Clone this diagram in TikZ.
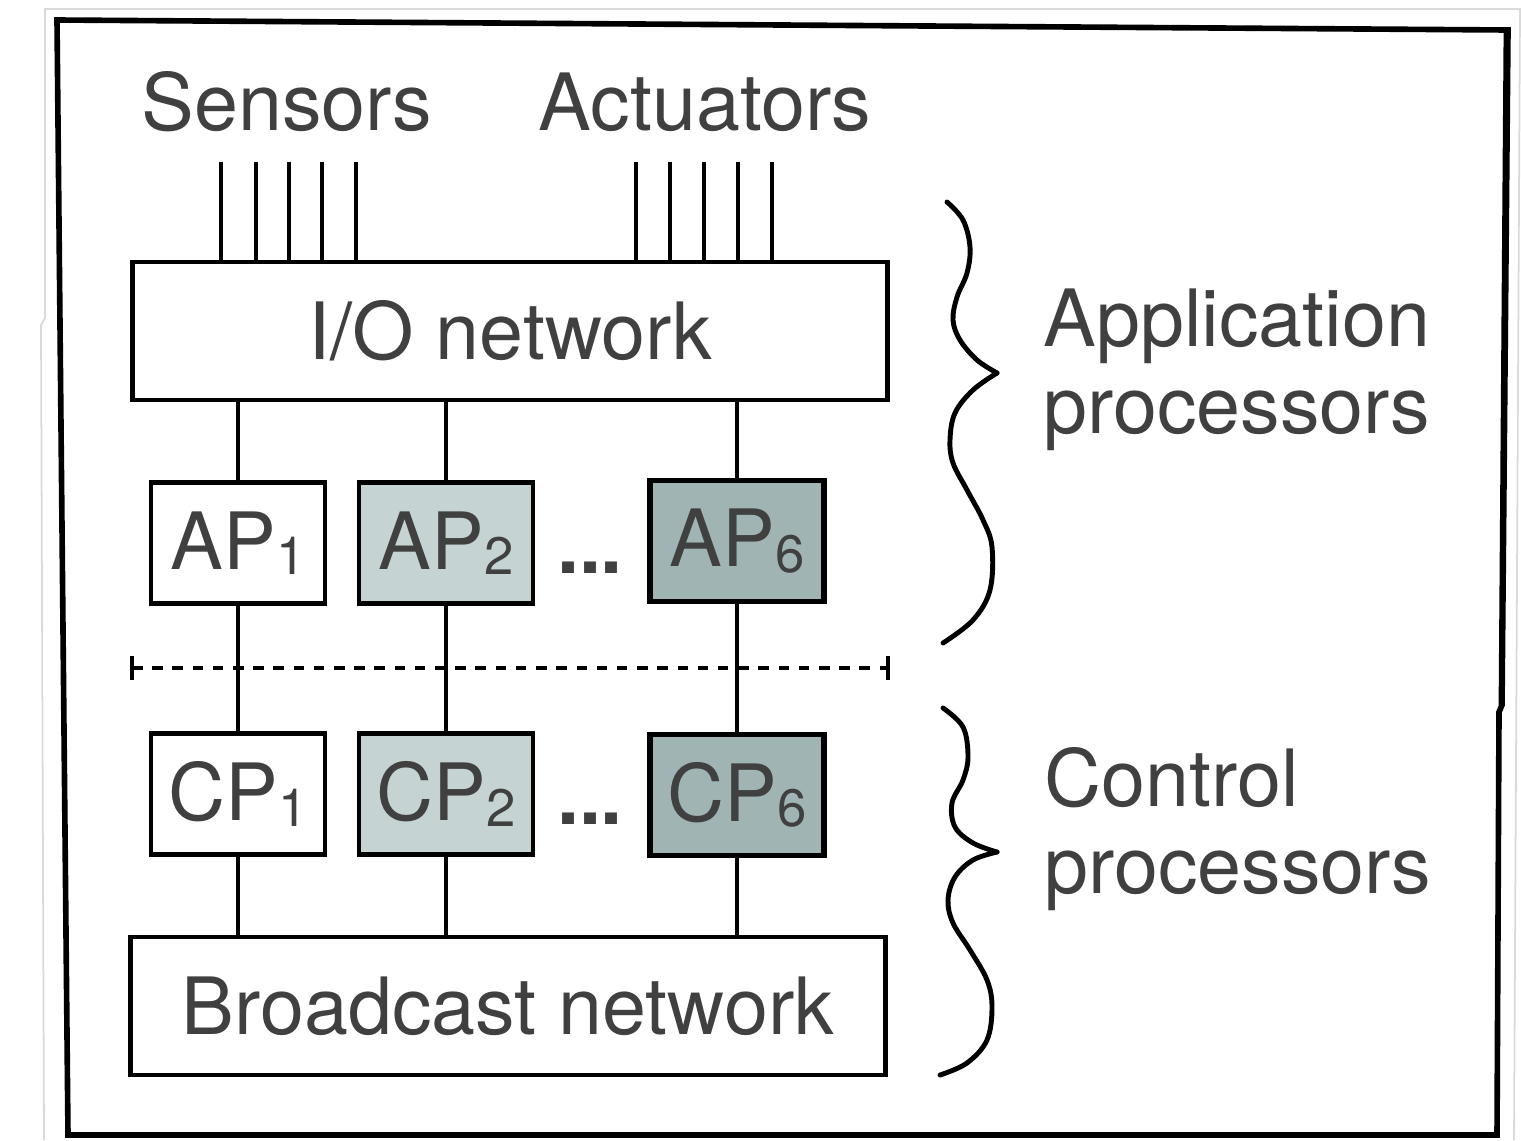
\documentclass[tikz,border=0pt]{standalone}
\usepackage{fontspec}
\setmainfont{TeX Gyre Heros}
\usetikzlibrary{positioning}
\definecolor{txtgray}{HTML}{404040}
\definecolor{apmid}{HTML}{C5D3D3}
\definecolor{apdark}{HTML}{A0B4B4}
\newcommand{\subidx}[1]{\raisebox{-0.11cm}{\fontsize{30}{30}\selectfont #1}}

\begin{document}
\begin{tikzpicture}[x=0.02cm, y=-0.02cm, semithick, every node/.style={text=txtgray, font=\fontsize{45}{49}\selectfont}]
    \tikzset{net/.style={draw=black, line width=2.8pt, minimum width=15.12cm, minimum height=2.76cm, inner sep=0pt},
      proc/.style={draw=black, line width=2.8pt, minimum width=3.48cm, minimum height=2.42cm, inner sep=0pt},
      wire/.style={draw=black, line width=2.5pt},
      sep/.style={draw=black, line width=2.4pt, dash pattern=on 6pt off 5.5pt},
      brc/.style={draw=black, line width=2.8pt, line cap=round}};
    \useasboundingbox (0,0) rectangle (1521,1140);
    % paper edge and frame
    \draw[black!15, line width=1pt] (44,1140) -- (41,325) -- (45,318) -- (45,9) -- (1520,9) -- (1514,1140);
    \draw[line width=3.2pt, line join=miter] (57,20) -- (1508,30) -- (1502,705) -- (1499,712) -- (1497,1135) -- (68,1135) -- cycle;
    \draw[line width=1.6pt] (1505,32) -- (1500,705);
    \node[anchor=base] (sens) at (287,130) {Sensors};
    \node[anchor=base] (act) at (705,130) {Actuators};
    \node[net] (io) at (510,331) {I/O network};
    \node[proc] (ap1) at (238,543) {AP\subidx{1}};
    \node[proc, fill=apmid] (ap2) at (446,543) {AP\subidx{2}};
    \node[proc, fill=apdark, line width=3.3pt] (ap6) at (737,541) {AP\subidx{6}};
    \node[anchor=base, font=\bfseries\fontsize{45}{49}\selectfont] (apdots) at (590,573) {...};
    \node[proc, on grid, below=5.02cm of ap1] (cp1) {CP\subidx{1}};
    \node[proc, fill=apmid, on grid, below=5.02cm of ap2] (cp2) {CP\subidx{2}};
    \node[proc, fill=apdark, line width=3.3pt, on grid, below=5.08cm of ap6] (cp6) {CP\subidx{6}};
    \node[anchor=base, font=\bfseries\fontsize{45}{49}\selectfont] (cpdots) at (590,824) {...};
    \node[net] (bc) at (508,1006) {Broadcast network};
    \node[anchor=base west, align=left] (applbl) at (1037,433) {Application\\processors};
    \node[anchor=base west, align=left] (ctllbl) at (1038,893) {Control\\processors};
    % sensor and actuator lines
    \foreach \x [count=\i] in {221,256,289,322,356} {
      \coordinate (s\i) at (\x,162);
      \draw[wire] (s\i) -- (s\i |- io.north);
    }
    \foreach \x [count=\i] in {636,670,704,738,772} {
      \coordinate (a\i) at (\x,162);
      \draw[wire] (a\i) -- (a\i |- io.north);
    }
    % links
    \foreach \p in {1,2,6} {
      \draw[wire] (ap\p.north) -- (ap\p.north |- io.south);
      \draw[wire] (ap\p) -- (cp\p);
      \draw[wire] (cp\p.south) -- (cp\p.south |- bc.north);
    }
    \coordinate (sepl) at (132,668);
    \coordinate (sepr) at (888,668);
    \draw[sep] (sepl) -- (sepr);
    \draw[wire] (sepl) ++(0,-12) -- ++(0,24);
    \draw[wire] (sepr) ++(0,-12) -- ++(0,24);
    % braces
    \draw[brc] plot[smooth, tension=0.6] coordinates {(947,202) (963,220) (970,247) (967,273) (957,297) (953,320) (960,340) (977,360) (997,373)};
    \draw[brc] plot[smooth, tension=0.6] coordinates {(997,373) (973,390) (955,413) (950,440) (953,463) (967,490) (983,520) (992,547) (990,590) (973,620) (943,643)};
    \draw[brc] plot[smooth, tension=0.6] coordinates {(943,708) (963,727) (968,757) (963,780) (952,803) (955,827) (973,843) (997,852)};
    \draw[brc] plot[smooth, tension=0.6] coordinates {(997,852) (973,860) (955,877) (948,900) (953,923) (970,950) (987,980) (992,1007) (987,1040) (967,1063) (940,1075)};
\end{tikzpicture}
\end{document}
